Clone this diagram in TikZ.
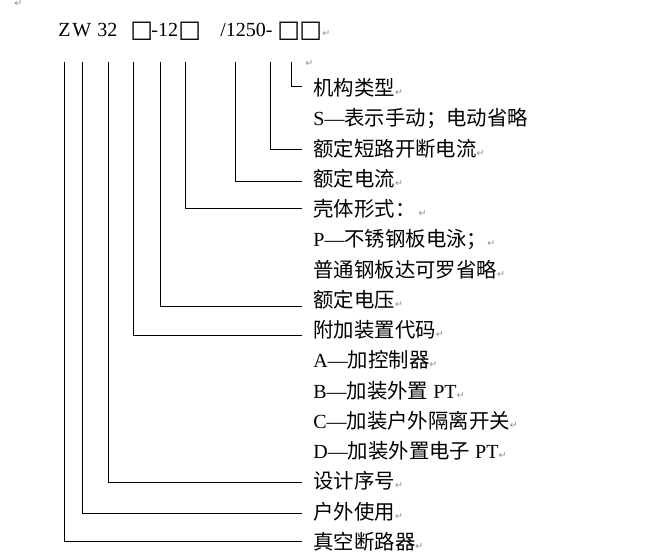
\documentclass[tikz,border=0pt]{standalone}
\usepackage{fontspec}
\setmainfont{Liberation Serif}
\newfontfamily\cjk{Noto Sans CJK SC}[Scale=1.02]
\newfontfamily\symb{DejaVu Sans}
\newcommand{\parmark}{{\symb\fontsize{9.5}{9.5}\selectfont\color{black!45}↵}}
\newcommand{\codebox}{{\symb\fontsize{24}{24}\selectfont □}}

\begin{document}
\begin{tikzpicture}[x=1pt, y=-1pt, line width=0.8pt,
    code/.style={anchor=base west, inner sep=0pt, font=\fontsize{20}{20}\selectfont},
    label/.style={anchor=west, inner xsep=11pt, inner ysep=0pt, text height=16pt, text depth=1pt,
                  font=\fontsize{20}{20}\selectfont},
    pmark/.style={anchor=base west, inner sep=0pt}]
      \useasboundingbox (0,0) rectangle (657,560);

      %%% model code
      \node[code] (cZ)    at (58,36)  {Z};
      \node[code] (cW)    at (72,36)  {W};
      \node[code] (c32)   at (97,36)  {32};
      \node[code] (cbA)   at (130,37) {\codebox};
      \node[code] (c12)   at (151,36) {-12};
      \node[code] (cbB)   at (178,37) {\codebox};
      \node[code] (c1250) at (220,36) {/1250-};
      \node[code] (cbC)   at (277,37) {\codebox};
      \node[code] (cbD)   at (299,37) {\codebox};
      \node[pmark] (m2) at (322,36) {\parmark};
      \node[pmark] (m0) at (14,6)  {\parmark};
      \node[pmark] (m1) at (305,66) {\parmark};

      %%% explanations, one per row
      \node[label] (mech)     at (302,88)     {{\cjk 机构类型}\parmark};
      \node[label] (manual)   at (302,118.25) {S—{\cjk 表示手动；电动省略}};
      \node[label] (breakcur) at (302,148.5)  {{\cjk 额定短路开断电流}\parmark};
      \node[label] (ratedcur) at (302,178.75) {{\cjk 额定电流}\parmark};
      \node[label] (shell)    at (302,209)    {{\cjk 壳体形式：}\,\parmark};
      \node[label] (shellP)   at (302,239.25) {P—{\cjk 不锈钢板电泳；}\parmark};
      \node[label] (shellN)   at (302,269.5)  {{\cjk 普通钢板达可罗省略}\parmark};
      \node[label] (volt)     at (302,299.75) {{\cjk 额定电压}\parmark};
      \node[label] (addon)    at (302,330)    {{\cjk 附加装置代码}\parmark};
      \node[label] (addA)     at (302,360.25) {A—{\cjk 加控制器}\parmark};
      \node[label] (addB)     at (302,390.5)  {B—{\cjk 加装外置} PT\parmark};
      \node[label] (addC)     at (302,420.75) {C—{\cjk 加装户外隔离开关}\parmark};
      \node[label] (addD)     at (302,451)    {D—{\cjk 加装外置电子} PT\parmark};
      \node[label] (design)   at (302,481.25) {{\cjk 设计序号}\parmark};
      \node[label] (outdoor)  at (302,511.5)  {{\cjk 户外使用}\parmark};
      \node[label] (vacuum)   at (302,541.75) {{\cjk 真空断路器}\parmark};

      %%% leader lines
      \foreach \n/\x in {1/64.3, 2/82.3, 3/108.3, 4/133.3, 5/160.7, 6/185.7, 7/235.7, 8/270.7, 9/291.7}
        \coordinate (t\n) at (\x,62);
      \foreach \t/\l/\d in {t9/mech/2, t8/breakcur/-1, t7/ratedcur/-3, t6/shell/1, t5/volt/-7,
                            t4/addon/-5, t3/design/-1, t2/outdoor/-2, t1/vacuum/0}
        \draw (\t) |- ([yshift=\d pt]\l.west);
\end{tikzpicture}
\end{document}
